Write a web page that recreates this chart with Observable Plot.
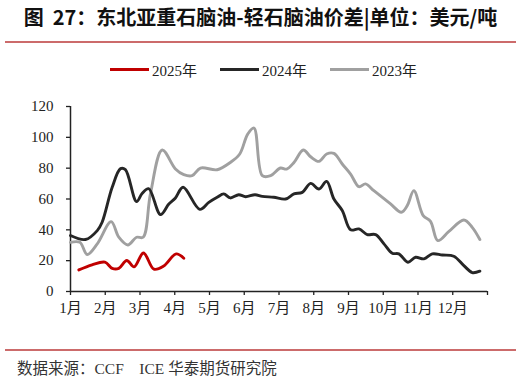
<!DOCTYPE html>
<html>
<head>
<meta charset="utf-8">
<script src="https://cdn.jsdelivr.net/npm/d3@7"></script>
<script src="https://cdn.jsdelivr.net/npm/@observablehq/plot@0.6"></script>
<style>
  html, body { margin: 0; padding: 0; background: #fff; }
  #wrap { position: relative; width: 521px; height: 379px; overflow: hidden; background: #fff; }
  #title { position: absolute; left: 0; top: 3px; width: 521px; text-align: center;
    font-family: "Noto Sans CJK SC", sans-serif; font-weight: bold; font-size: 20px; color: #111; line-height: 27px; }
  .rule { position: absolute; left: 5px; width: 511px; height: 2px; background: #cc6b6b; }
  #legend { position: absolute; left: 0; top: 58px; width: 521px; height: 22px;
    font-family: "Liberation Serif", "Noto Sans CJK SC", serif; font-size: 15px; color: #222; }
  .li { position: absolute; top: 0; display: flex; align-items: center; height: 22px; }
  .sw { width: 39px; height: 3px; margin-right: 3px; }
  #source { position: absolute; left: 17px; top: 356px; font-family: "Liberation Serif", "Noto Sans CJK SC", serif;
    font-size: 15.5px; color: #333; white-space: pre; }
  #chart { position: absolute; left: 0; top: 0; }
</style>
</head>
<body>
<div id="wrap">
  <div id="chart"></div>
  <div id="title">图&nbsp;&nbsp;27：东北亚重石脑油-轻石脑油价差|单位：美元/吨</div>
  <div class="rule" style="top:41px"></div>
  <div id="legend"></div>
  <div class="rule" style="top:349px"></div>
  <div id="source">数据来源：CCF　ICE 华泰期货研究院</div>
</div>
<script>
// Series names and colours
const seriesNames = ["2025年", "2024年", "2023年"];
const seriesColors = ["#c00000", "#262626", "#a0a0a0"];

// x = position in months since 1 Jan (0 = 1月 start, 12 = year end)
const x2025 = [0.24, 0.62, 0.99, 1.2, 1.39, 1.62, 1.83, 2.1, 2.4, 2.68, 3.04, 3.26];
const v2025 = [14, 17.3, 19, 15, 15, 20.1, 16, 25, 14.5, 16.5, 24.4, 21.6];

const x2024 = [0, 0.43, 0.77, 0.91, 1.2, 1.44, 1.58, 1.9, 2.06, 2.25, 2.59, 2.83, 3.02, 3.24, 3.72, 3.98, 4.22, 4.41, 4.6, 4.84, 5.04, 5.31, 5.52, 5.85, 6.19, 6.43, 6.67, 6.91, 7.15, 7.37, 7.58, 7.82, 8.06, 8.3, 8.54, 8.78, 9.02, 9.26, 9.45, 9.71, 9.93, 10.17, 10.41, 10.7, 11.03, 11.32, 11.56, 11.78];
const v2024 = [36.3, 33.7, 39.5, 44.9, 67.6, 79.7, 79, 58.3, 63.5, 66.7, 49.9, 56.8, 60.7, 67.6, 53.3, 57.8, 61.1, 63.3, 60.7, 62.8, 61.5, 62.8, 61.7, 61.1, 60, 63.3, 64.3, 70.1, 66.5, 71.4, 60, 52.5, 40, 40.6, 36.9, 36.9, 30.9, 24.8, 24.4, 19, 22.2, 21.2, 24.4, 23.7, 22.9, 16.8, 12.3, 13.2];

const x2023 = [0, 0.27, 0.48, 0.77, 1.17, 1.39, 1.65, 1.9, 2.09, 2.3, 2.64, 3.02, 3.26, 3.5, 3.74, 4.22, 4.6, 4.87, 5.1, 5.28, 5.52, 5.76, 6.04, 6.22, 6.43, 6.7, 6.91, 7.15, 7.37, 7.58, 7.82, 8.06, 8.3, 8.49, 8.73, 9.21, 9.52, 9.69, 9.88, 10.15, 10.36, 10.57, 10.89, 11.32, 11.56, 11.78];
const v2023 = [31.9, 31.9, 24, 30.9, 45.3, 35.2, 30.2, 35.2, 35.2, 63.3, 91.8, 79.5, 75.8, 75.1, 80.1, 79, 83.7, 89.2, 102.1, 106, 75.1, 75.1, 80.1, 79.4, 83.7, 91.8, 87.4, 84.4, 89.2, 89.6, 82.7, 76.2, 68, 69.8, 65.4, 56.8, 51.4, 55.7, 65.4, 49.2, 45.5, 33, 39, 46.4, 41.6, 33.7];

// Axis ticks
const monthTicks = [0, 1, 2, 3, 4, 5, 6, 7, 8, 9, 10, 11, 12];
const monthLabels = ["1月", "2月", "3月", "4月", "5月", "6月", "7月", "8月", "9月", "10月", "11月", "12月", ""];
const yTicks = [0, 20, 40, 60, 80, 100, 120];

const toRows = (xs, vs, s) => xs.map((x, i) => ({x, v: vs[i], s}));
const data2025 = toRows(x2025, v2025, seriesNames[0]);
const data2024 = toRows(x2024, v2024, seriesNames[1]);
const data2023 = toRows(x2023, v2023, seriesNames[2]);

const font = `"Liberation Serif", "Noto Sans CJK SC", serif`;

const chart = Plot.plot({
  width: 521,
  height: 379,
  marginLeft: 70,
  marginRight: 34,
  marginTop: 106,
  marginBottom: 88,
  style: {fontFamily: font, fontSize: "15px", color: "#222", background: "transparent"},
  x: {domain: [0, 12]},
  y: {domain: [0, 120]},
  marks: [
    Plot.axisY({ticks: yTicks, tickSize: 4, tickPadding: 13, label: null, stroke: "#222", strokeWidth: 1.3, fill: "#222"}),
    Plot.axisX({ticks: monthTicks, tickSize: 4, tickPadding: 7, label: null, tickFormat: (d, i) => monthLabels[i], stroke: "#222", strokeWidth: 1.3, fill: "#222"}),
    Plot.ruleX([0], {stroke: "#222", strokeWidth: 1.5}),
    Plot.lineY(data2023, {x: "x", y: "v", stroke: seriesColors[2], strokeWidth: 2.9, curve: "catmull-rom"}),
    Plot.lineY(data2024, {x: "x", y: "v", stroke: seriesColors[1], strokeWidth: 2.9, curve: "catmull-rom"}),
    Plot.lineY(data2025, {x: "x", y: "v", stroke: seriesColors[0], strokeWidth: 2.9, curve: "catmull-rom"}),
    Plot.ruleY([0], {stroke: "#222", strokeWidth: 1.5})
  ]
});
document.getElementById("chart").appendChild(chart);

// Legend
const legendLeft = [110, 220, 330];
const legend = document.getElementById("legend");
seriesNames.forEach((name, i) => {
  const item = document.createElement("div");
  item.className = "li";
  item.style.left = legendLeft[i] + "px";
  const sw = document.createElement("div");
  sw.className = "sw";
  sw.style.background = seriesColors[i];
  const t = document.createElement("span");
  t.textContent = name;
  item.appendChild(sw);
  item.appendChild(t);
  legend.appendChild(item);
});
</script>
</body>
</html>
